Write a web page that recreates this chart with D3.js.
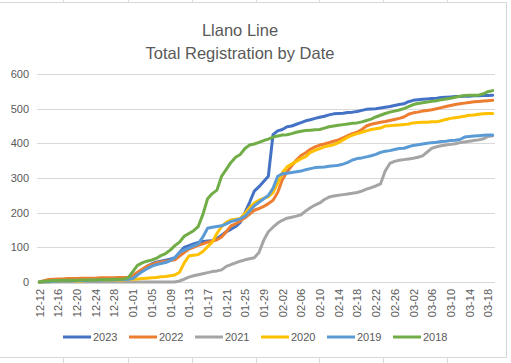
<!DOCTYPE html>
<html>
<head>
<meta charset="utf-8">
<script src="https://cdn.jsdelivr.net/npm/d3@7"></script>
<style>
  body { margin: 0; background: #fff; }
  text { font-family: "Liberation Sans", Arial, sans-serif; fill: #595959; }
</style>
</head>
<body>
<div id="chart"></div>
<script>
// day-by-day totals, 12-12 through 03-19
var y2023 = [0,1,2,3,4,5,5,6,6,7,7,8,8,8,9,9,10,10,11,
  12,15,25,35,45,52,57,60,63,66,70,
  85,100,105,110,114,117,118,119,125,135,
  145,152,160,172,200,230,262,275,290,305,
  425,436,440,448,450,455,460,465,468,472,
  475,478,482,485,486,487,489,490,492,495,
  498,499,500,502,504,506,509,512,514,520,
  524,526,527,528,529,530,532,533,534,535,
  535,536,536,537,537,538,538,539];
var y2022 = [0,4,7,8,9,9,10,10,10,11,11,11,11,12,12,12,12,13,13,
  14,18,28,37,45,50,55,58,60,62,64,
  75,85,95,100,106,110,115,118,122,130,
  145,162,168,176,185,196,207,212,218,226,
  236,258,295,318,335,352,365,373,383,390,
  395,398,402,406,410,416,422,428,432,440,
  450,455,458,461,463,466,469,472,476,484,
  488,490,493,495,497,500,503,506,509,512,
  514,516,518,520,521,522,523,524];
var y2021 = [0,0,0,0,0,0,0,0,0,0,0,0,0,0,0,0,0,0,0,0,0,0,0,0,0,0,0,0,0,0,
  3,8,14,18,21,24,27,30,32,35,
  45,50,55,60,64,67,70,85,120,145,
  158,170,178,184,187,190,194,205,214,222,
  228,238,245,248,250,252,254,256,258,262,
  268,272,277,283,320,342,348,351,353,355,
  357,360,364,375,386,390,393,395,397,399,
  402,404,406,408,410,413,420,422];
var y2020 = [0,1,1,2,2,2,3,3,3,3,4,4,4,5,5,5,5,6,6,
  7,8,9,10,11,12,13,15,16,18,20,
  28,55,75,77,79,88,102,115,140,160,
  172,179,181,183,198,215,228,236,241,246,
  258,285,315,332,340,348,356,362,374,380,
  385,390,393,396,402,410,418,424,428,432,
  436,440,442,444,450,451,452,453,454,456,
  459,460,461,461,462,462,465,469,472,474,
  476,478,481,482,484,485,486,486];
var y2019 = [0,1,1,2,2,3,3,3,4,4,4,5,5,5,6,6,6,7,7,
  8,10,20,30,38,45,50,53,56,62,70,
  85,92,98,104,110,130,155,158,160,162,
  168,174,178,182,190,205,220,230,240,250,
  270,305,312,314,316,318,320,324,327,330,
  331,332,334,335,337,340,345,352,356,358,
  361,364,368,374,377,379,382,385,386,390,
  394,396,398,400,402,403,405,406,408,409,
  411,418,420,421,422,423,424,424];
var y2018 = [0,2,3,4,4,5,5,5,5,6,6,6,6,7,7,7,8,8,9,
  12,30,48,55,60,63,68,76,82,92,105,
  115,132,140,148,160,195,240,255,265,305,
  325,345,360,368,385,395,398,403,408,412,
  418,421,424,425,428,432,435,437,438,439,
  440,444,448,450,452,454,456,458,459,462,
  466,470,476,481,486,490,493,496,500,506,
  512,515,517,519,521,523,526,528,530,533,
  536,538,539,539,539,543,549,552];

var seriesNames = ["2023", "2022", "2021", "2020", "2019", "2018"];
var seriesValues = [y2023, y2022, y2021, y2020, y2019, y2018];
var seriesColors = ["#4472C4", "#ED7D31", "#A5A5A5", "#FFC000", "#5B9BD5", "#70AD47"];
var yTicks = [0, 100, 200, 300, 400, 500, 600];

var fmt = d3.timeFormat("%m-%d");
var dates = d3.timeDay.range(new Date(2022, 11, 12), new Date(2023, 2, 20)).map(fmt);
var dateLabels = dates.filter(function(d, i) { return i % 4 === 0; });

var width = 511, height = 363;

var svg = d3.select("#chart").append("svg")
  .attr("width", width)
  .attr("height", height);

svg.append("rect").attr("width", width).attr("height", height).attr("fill", "#fff");

// sheet cell lines peeking out around the chart
var cellX = [63, 128, 192, 256, 319, 383, 447];
cellX.forEach(function(cx) {
  svg.append("line").attr("x1", cx + 0.5).attr("x2", cx + 0.5).attr("y1", 0).attr("y2", 3)
    .attr("stroke", "#dadada");
  svg.append("line").attr("x1", cx + 0.5).attr("x2", cx + 0.5).attr("y1", 357).attr("y2", height)
    .attr("stroke", "#dadada");
});
svg.append("rect")
  .attr("x", -1.5).attr("y", 2.5)
  .attr("width", 508).attr("height", 355)
  .attr("fill", "#fff")
  .attr("stroke", "#d9d9d9");

var x = d3.scalePoint().domain(dates).range([37, 495]).padding(0.5);
var y = d3.scaleLinear().domain([0, 600]).range([282, 74]);

// gridlines
svg.append("g").selectAll("line")
  .data(yTicks)
  .enter().append("line")
  .attr("x1", 37).attr("x2", 495)
  .attr("y1", function(d) { return Math.round(y(d)) + 0.5; })
  .attr("y2", function(d) { return Math.round(y(d)) + 0.5; })
  .attr("stroke", "#d9d9d9")
  .attr("stroke-width", 1);

// y axis labels
var yAxis = svg.append("g")
  .attr("transform", "translate(29,0)")
  .call(d3.axisLeft(y).tickValues(yTicks).tickSize(0).tickPadding(0));
yAxis.select(".domain").remove();
yAxis.selectAll("text")
  .style("font-size", "11px")
  .style("font-family", "'Liberation Sans', Arial, sans-serif")
  .attr("fill", "#595959");

// x axis labels, rotated
var xAxis = svg.append("g")
  .attr("transform", "translate(0,282)")
  .call(d3.axisBottom(x).tickValues(dateLabels).tickSize(0));
xAxis.select(".domain").remove();
xAxis.selectAll("text")
  .attr("transform", "rotate(-90)")
  .attr("text-anchor", "end")
  .attr("x", -7)
  .attr("y", 0)
  .attr("dy", "0.35em")
  .style("font-size", "11px")
  .style("font-family", "'Liberation Sans', Arial, sans-serif")
  .attr("fill", "#595959");

var line = d3.line()
  .x(function(d, i) { return x(dates[i]); })
  .y(function(d) { return y(d); });

svg.append("g").selectAll("path")
  .data(seriesValues)
  .enter().append("path")
  .attr("d", line)
  .attr("fill", "none")
  .attr("stroke", function(d, i) { return seriesColors[i]; })
  .attr("stroke-width", 3)
  .attr("stroke-linejoin", "round")
  .attr("stroke-linecap", "round");

// title
svg.append("text").attr("x", 240).attr("y", 35.5)
  .attr("text-anchor", "middle").style("font-size", "16.5px").text("Llano Line");
svg.append("text").attr("x", 240).attr("y", 58.5)
  .attr("text-anchor", "middle").style("font-size", "16.5px").text("Total Registration by Date");

// legend
var legend = svg.append("g").selectAll("g")
  .data(seriesNames)
  .enter().append("g")
  .attr("transform", function(d, i) { return "translate(" + (63 + i * 66) + ",337)"; });
legend.append("line")
  .attr("x1", 0).attr("x2", 28)
  .attr("stroke", function(d, i) { return seriesColors[i]; })
  .attr("stroke-width", 3);
legend.append("text")
  .attr("x", 30).attr("dy", "0.35em")
  .style("font-size", "11px")
  .text(function(d) { return d; });
</script>
</body>
</html>
